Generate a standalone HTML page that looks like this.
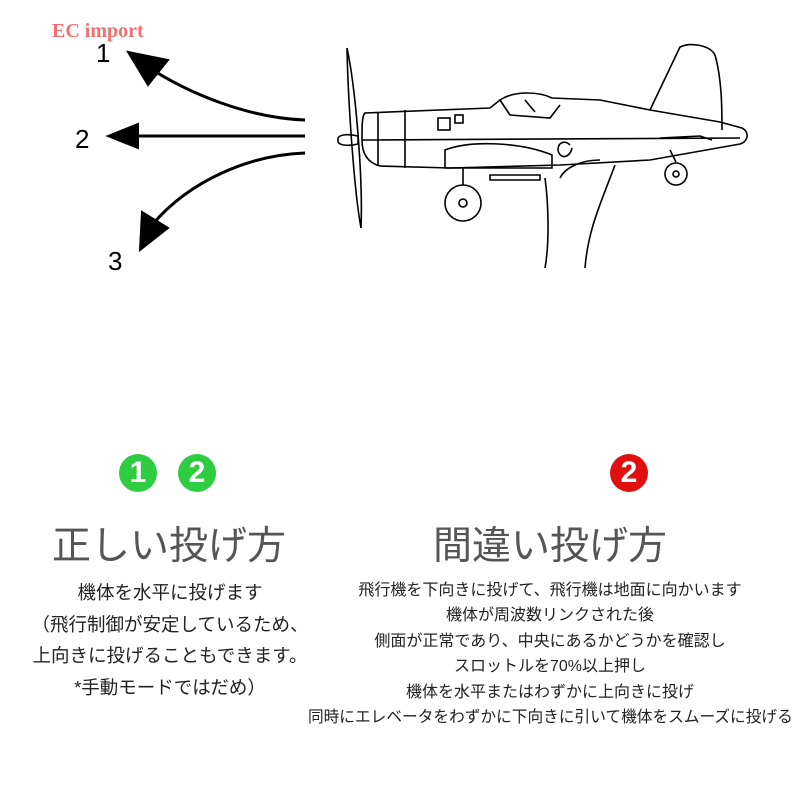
<!DOCTYPE html>
<html><head><meta charset="utf-8"><style>
body{margin:0;width:800px;height:800px;background:#fff;position:relative;overflow:hidden;font-family:"Liberation Sans","Noto Sans CJK JP",sans-serif;color:#222}
.t{position:absolute;white-space:nowrap}
.c{position:absolute;border-radius:50%;color:#fff;font-weight:bold;font-size:30px;text-align:center;line-height:38px;width:38px;height:38px}
</style></head><body>
<svg width="800" height="300" style="position:absolute;left:0;top:0" fill="none" stroke="#000" stroke-width="2">
<path d="M305 120 C250 118 190 95 145 65" stroke-width="3"/>
<polygon points="128,52 168,60 148,85" fill="#000"/>
<path d="M305 136 L130 136" stroke-width="3"/>
<polygon points="108,136 138,124 138,148" fill="#000"/>
<path d="M305 153 C250 155 190 180 152 225" stroke-width="3"/>
<polygon points="140,250 142,212 168,228" fill="#000"/>
<text x="96" y="62" font-size="26" fill="#000" stroke="none" font-family="Liberation Sans">1</text>
<text x="75" y="148" font-size="26" fill="#000" stroke="none" font-family="Liberation Sans">2</text>
<text x="108" y="270" font-size="26" fill="#000" stroke="none" font-family="Liberation Sans">3</text>
<g stroke-width="1.6">
<path d="M347 48 C356 90 363 180 361 228 C354 190 348 100 347 48Z"/>
<path d="M338 138 C340 134 350 134 358 136 L358 144 C350 146 340 146 338 142Z"/>
<path d="M365 113 L490 108 L500 100 C515 90 540 92 552 98 L600 100 L650 110 L720 122 L742 128 C750 132 748 142 740 144 L650 160 L560 165 L450 168 L380 166 C365 162 362 150 362 140 C362 125 362 116 365 113Z"/>
<path d="M378 112 L378 166 M405 110 L405 168 M362 140 L740 138"/>
<path d="M500 100 L510 115 L550 118 L560 105 M525 100 L535 112"/>
<rect x="438" y="118" width="12" height="12"/><rect x="455" y="115" width="8" height="8"/>
<path d="M445 150 C470 140 520 142 552 155 L552 168 L445 168 Z"/>
<path d="M650 110 L680 47 C690 42 710 45 715 55 C722 80 722 110 722 130"/>
<path d="M660 138 L700 136 L712 140"/>
<path d="M463 168 L463 185 M670 150 L676 162"/>
<circle cx="463" cy="203" r="18"/><circle cx="463" cy="203" r="4"/>
<circle cx="676" cy="174" r="11"/><circle cx="676" cy="174" r="3"/>
<path d="M490 175 L540 175 L540 180 L490 180Z"/>
<path d="M545 178 C548 200 550 240 545 268 M585 268 C588 230 600 205 615 165 M570 145 C565 140 558 142 558 150 C560 160 570 158 572 148 M560 178 C565 168 580 160 600 160"/>
</g>
</svg>
<div class="t" style="left:52px;top:20px;font-size:20px;font-weight:bold;color:#f07070;font-family:'Liberation Serif',serif">EC import</div>
<div class="c" style="left:119px;top:454px;background:#2ecc40">1</div>
<div class="c" style="left:178px;top:454px;background:#2ecc40">2</div>
<div class="c" style="left:610px;top:454px;background:#e01010">2</div>
<div class="t" style="left:52px;top:515px;font-size:39px;color:#555">正しい投げ方</div>
<div class="t" style="left:433px;top:515px;font-size:39px;color:#555">間違い投げ方</div>
<div style="position:absolute;left:0;width:340px;top:577px;text-align:center;font-size:18.5px;line-height:31.5px">機体を水平に投げます<br>（飛行制御が安定しているため、<br>上向きに投げることもできます。<br>*手動モードではだめ）</div>
<div style="position:absolute;left:300px;width:500px;top:578px;text-align:center;font-size:16px;line-height:25.4px">飛行機を下向きに投げて、飛行機は地面に向かいます<br>機体が周波数リンクされた後<br>側面が正常であり、中央にあるかどうかを確認し<br>スロットルを70%以上押し<br>機体を水平またはわずかに上向きに投げ<br><span style="display:inline-block;transform:scaleX(0.98)">同時にエレベータをわずかに下向きに引いて機体をスムーズに投げる</span></div>
</body></html>
